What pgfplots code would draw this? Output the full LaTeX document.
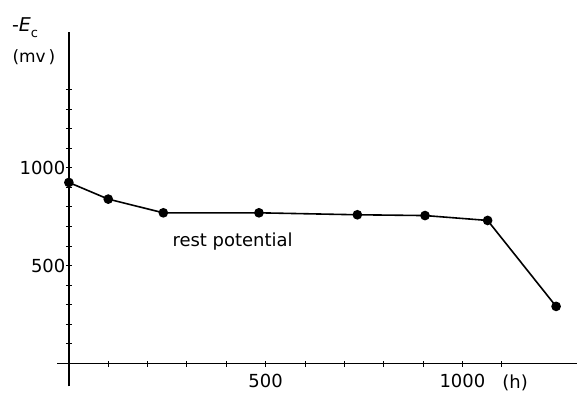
\documentclass[border=0pt]{standalone}
\usepackage{pgfplots}
\pgfplotsset{compat=1.18}
\usepackage{fontspec}
\setmainfont{DejaVu Sans}

\begin{document}
\begin{tikzpicture}
\begin{axis}[
  x=0.394pt, y=0.196pt,
  axis lines=middle,
  axis line style={-, line width=1.3pt},
  clip=false,
  xmin=-30, xmax=1292,
  ymin=-117, ymax=1694,
  xtick={500,1000},
  minor xtick={100,200,300,400,600,700,800,900,1100},
  ytick={500,1000},
  minor ytick={100,200,300,400,600,700,800,900,1100,1200,1300,1400},
  tick align=center,
  major tick length=6pt,
  minor tick length=6pt,
  tick style={line width=1pt, black},
  /pgf/number format/assume math mode=true,
  /pgf/number format/set thousands separator={},
  tick label style={font=\fontsize{18}{18}\selectfont},
  xticklabel style={yshift=-4pt},
  yticklabel style={xshift=3pt},
]
\addplot[black, line width=1.6pt, mark=*, mark size=4pt]
  coordinates {(0,925) (100,840) (240,770) (483,770) (733,760) (905,756) (1064,731) (1238,292)};

\node at (axis cs:416,625) {\fontsize{18}{18}\selectfont rest potential};
\node at (axis cs:1134,-97) {\fontsize{18}{18}\selectfont (h)};
\node[anchor=base west, inner sep=0pt] at (axis cs:-145,1694)
  {\fontsize{19}{19}\selectfont -\textit{E}\raisebox{-6pt}{\fontsize{13}{13}\selectfont c}};
\node at (axis cs:-89,1566) {\fontsize{17}{17}\selectfont (mv\,)};

% fixed page extent
\path (axis cs:-175,1857) (axis cs:1292,-153);
\end{axis}
\end{tikzpicture}
\end{document}
